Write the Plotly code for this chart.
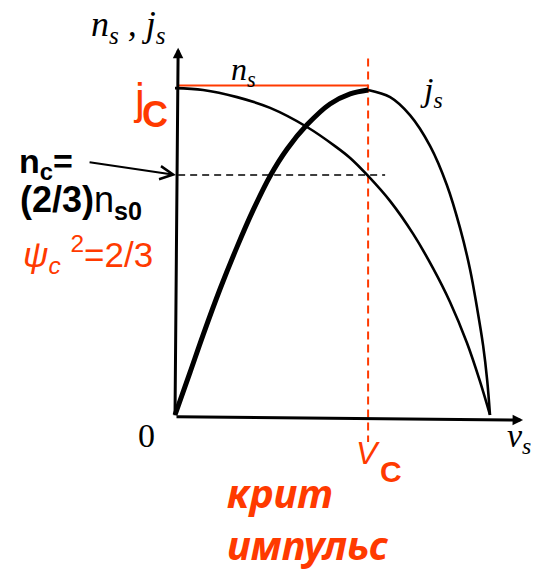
import plotly.graph_objects as go

# Superfluid density n_s versus superfluid velocity v_s (normalised units)
v_ns = [0.0, 0.089, 0.197, 0.302, 0.419, 0.508, 0.556, 0.613, 0.683, 0.756,
        0.819, 0.873, 0.927, 0.968, 1.0]
n_s = [0.908, 0.903, 0.883, 0.853, 0.800, 0.747, 0.714, 0.664, 0.594, 0.503,
       0.408, 0.314, 0.200, 0.094, 0.0]

# Supercurrent j_s: rising (stable) branch up to the maximum, then the falling branch
v_js_up = [0.0, 0.048, 0.089, 0.143, 0.197, 0.248, 0.302, 0.356, 0.419, 0.492, 0.556, 0.613]
j_s_up = [0.0, 0.119, 0.222, 0.350, 0.467, 0.569, 0.664, 0.739, 0.806, 0.864, 0.892, 0.903]
v_js_down = [0.613, 0.683, 0.746, 0.810, 0.863, 0.905, 0.937, 0.959, 0.978, 0.991, 1.0]
j_s_down = [0.903, 0.883, 0.833, 0.747, 0.639, 0.519, 0.403, 0.297, 0.194, 0.097, 0.0]

# Critical values
v_c = 0.613      # critical velocity (maximum of j_s)
j_c = 0.915      # critical current level
n_c = 2 / 3      # n_c = (2/3) n_s0

W, H = 536, 569
RED = "#ff3a00"
BLACK = "#000000"

fig = go.Figure()

# critical-current level and critical-velocity marker
fig.add_trace(go.Scatter(x=[0.01, v_c], y=[j_c, j_c], mode="lines",
                         line=dict(color=RED, width=2), hoverinfo="skip"))
fig.add_trace(go.Scatter(x=[v_c, v_c], y=[0.99, -0.075], mode="lines",
                         line=dict(color=RED, width=2, dash="8px,5px"), hoverinfo="skip"))
# n_c level
fig.add_trace(go.Scatter(x=[0.01, 0.667], y=[n_c, n_c], mode="lines",
                         line=dict(color=BLACK, width=1.5, dash="7px,5px"), hoverinfo="skip"))

# n_s curve
fig.add_trace(go.Scatter(x=v_ns, y=n_s, mode="lines",
                         line=dict(color=BLACK, width=2.6, shape="spline", smoothing=1.0),
                         hoverinfo="skip"))
# j_s curve: thick stable branch, thin unstable branch
fig.add_trace(go.Scatter(x=v_js_up, y=j_s_up, mode="lines",
                         line=dict(color=BLACK, width=5, shape="spline", smoothing=1.0),
                         hoverinfo="skip"))
fig.add_trace(go.Scatter(x=v_js_down, y=j_s_down, mode="lines",
                         line=dict(color=BLACK, width=2.6, shape="spline", smoothing=1.0),
                         hoverinfo="skip"))

annotations = []

# axes drawn as arrows
annotations.append(dict(x=0.01, y=1.02, ax=0.0, ay=-0.005, xref="x", yref="y",
                        axref="x", ayref="y", text="", showarrow=True,
                        arrowhead=2, arrowsize=0.7, arrowwidth=3, arrowcolor=BLACK))
annotations.append(dict(x=1.105, y=-0.014, ax=0.0, ay=-0.005, xref="x", yref="y",
                        axref="x", ayref="y", text="", showarrow=True,
                        arrowhead=2, arrowsize=0.7, arrowwidth=3, arrowcolor=BLACK))
# pointer from the n_c label to the axis
annotations.append(dict(x=0.003, y=n_c, ax=-0.276, ay=0.703, xref="x", yref="y",
                        axref="x", ayref="y", text="", showarrow=True,
                        arrowhead=5, arrowsize=1.3, arrowwidth=2, arrowcolor=BLACK))


def label(text, px, py, size, family, color=BLACK, xanchor="center", yanchor="middle"):
    annotations.append(dict(x=px / W, y=1 - py / H, xref="paper", yref="paper",
                            text=text, showarrow=False, xanchor=xanchor, yanchor=yanchor,
                            align="left", font=dict(size=size, family=family, color=color)))


SERIF = "Liberation Serif"
SANS = "Liberation Sans"

label("<i>n<sub>s</sub> , j<sub>s</sub></i>", 128, 27, 36, SERIF)
label("<i>n<sub>s</sub></i>", 243, 72, 32, SERIF)
label("<i>j<sub>s</sub></i>", 431, 92, 34, SERIF)
label("0", 146, 435, 34, SERIF)
label("<i>v<sub>s</sub></i>", 519, 438, 34, SERIF)

label("j", 139, 99, 44, SANS, RED)
label("<b>C</b>", 155, 115, 36, SANS, RED)

label("<b>n<sub>c</sub>=</b>", 17, 163, 34, SANS, xanchor="left")
label("<b>(2/3)</b>n<sub><b>s0</b></sub>", 18, 202, 36, SANS, xanchor="left")
label("<i>ψ<sub>c</sub></i> <sup>2</sup>=2/3", 21, 254, 35, SANS, RED, xanchor="left")

label("<i>V</i>", 368, 453, 32, SANS, RED)
label("<b>C</b>", 391, 471, 30, SANS, RED)

label("<b><i>крит<br>импульс</i></b>", 225, 518, 40, "Noto Sans", RED, xanchor="left")

fig.update_layout(
    width=W, height=H, autosize=False,
    margin=dict(l=0, r=0, t=0, b=0),
    paper_bgcolor="white", plot_bgcolor="white",
    showlegend=False,
    xaxis=dict(range=[-175 / 315, (W - 175) / 315], visible=False, fixedrange=True),
    yaxis=dict(range=[-(H - 415) / 360, 415 / 360], visible=False, fixedrange=True),
    annotations=annotations,
)

fig.write_html("out.html", config=dict(displayModeBar=False))
